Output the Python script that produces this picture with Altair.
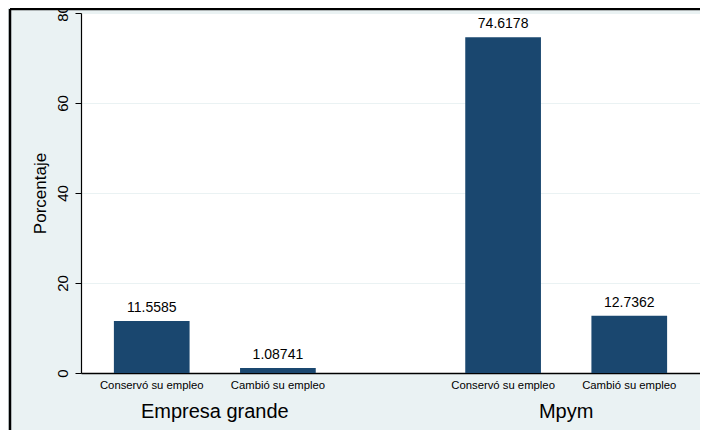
import altair as alt
import pandas as pd

groups = ["Empresa grande", "Empresa grande", "Mpym", "Mpym"]
categories = ["Conservó su empleo", "Cambió su empleo", "Conservó su empleo", "Cambió su empleo"]
values = [11.5585, 1.08741, 74.6178, 12.7362]
y_ticks = [0, 20, 40, 60, 80]

group_order = ["Empresa grande", "Mpym"]
cat_order = ["Conservó su empleo", "Cambió su empleo"]

df = pd.DataFrame({"grupo": groups, "cat": categories, "valor": values})

BAR = "#1A476F"
BG = "#EAF2F3"
FONT = "Liberation Sans"

x_enc = alt.X(
    "grupo:N",
    sort=group_order,
    scale=alt.Scale(paddingInner=0.4255, paddingOuter=0.0936),
    axis=alt.Axis(
        title=None,
        labelFontSize=20,
        labelColor="black",
        labelFont=FONT,
        tickSize=0,
        labelPadding=28,
        domainColor="black",
        domainWidth=1.5,
        labelAngle=0,
        grid=False,
    ),
)
xoff_enc = alt.XOffset(
    "cat:N",
    sort=cat_order,
    scale=alt.Scale(paddingInner=0.4, paddingOuter=0),
)

base = alt.Chart(df)

bars = base.mark_bar(color=BAR).encode(
    x=x_enc,
    xOffset=xoff_enc,
    y=alt.Y(
        "valor:Q",
        scale=alt.Scale(domain=[0, 80], nice=False),
        axis=alt.Axis(
            title="Porcentaje",
            titleFontSize=17,
            titleFont=FONT,
            titleFontWeight="normal",
            titleColor="black",
            titlePadding=6,
            values=y_ticks,
            labelAngle=-90,
            labelFontSize=15,
            labelFont=FONT,
            labelColor="black",
            labelPadding=5,
            tickSize=6,
            tickColor="black",
            domainColor="black",
            domainWidth=1.2,
            gridColor=BG,
            gridWidth=1,
        ),
    ),
)

value_labels = base.mark_text(
    baseline="bottom", dy=-6, fontSize=14, font=FONT, color="black"
).encode(
    x=x_enc,
    xOffset=xoff_enc,
    y="valor:Q",
    text=alt.Text("valor:Q", format=".6"),
)

cat_labels = base.mark_text(
    baseline="top", dy=7, fontSize=11.3, font=FONT, color="black"
).encode(
    x=x_enc,
    xOffset=xoff_enc,
    y=alt.datum(0),
    text="cat:N",
)

frame_df = pd.DataFrame({"k": [0]})
top_line = alt.Chart(frame_df).mark_rule(color="black", strokeWidth=2.5).encode(
    x=alt.value(-71), x2=alt.value(640), y=alt.value(-4)
)
left_line = alt.Chart(frame_df).mark_rule(color="black", strokeWidth=2.5).encode(
    x=alt.value(-71), y=alt.value(-4), y2=alt.value(440)
)

chart = (
    alt.layer(bars, value_labels, cat_labels, top_line, left_line)
    .properties(
        width=619,
        height=360,
        autosize="none",
        padding={"left": 73, "top": 5, "right": 0, "bottom": 57},
    )
    .configure(background=BG)
    .configure_view(stroke=None, fill="white")
)

chart.save("out.html", embed_options={"renderer": "svg", "actions": False})
